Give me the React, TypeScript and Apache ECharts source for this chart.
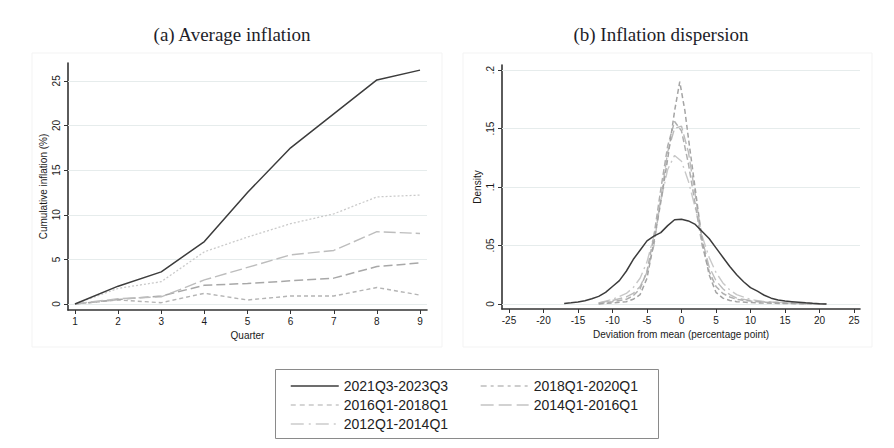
import React, { useEffect, useRef } from "react";
import * as echarts from "echarts";

// ---------- Data ----------
const seriesNames = ["2021Q3-2023Q3", "2018Q1-2020Q1", "2016Q1-2018Q1", "2014Q1-2016Q1", "2012Q1-2014Q1"];

const quarters = [1, 2, 3, 4, 5, 6, 7, 8, 9];
const cum2021 = [0, 2.0, 3.6, 7.0, 12.5, 17.5, 21.3, 25.1, 26.2];
const cum2012 = [0, 1.75, 2.5, 5.85, 7.5, 9.0, 10.1, 12.0, 12.2];
const cum2014 = [0, 0.6, 0.8, 2.7, 4.1, 5.5, 6.0, 8.1, 7.9];
const cum2018 = [0, 0.5, 0.9, 2.1, 2.3, 2.6, 2.9, 4.2, 4.6];
const cum2016 = [0, 0.45, 0.15, 1.2, 0.45, 0.9, 0.9, 1.85, 1.0];

const leftYTicks = [0, 5, 10, 15, 20, 25];
const rightXTicks = [-25, -20, -15, -10, -5, 0, 5, 10, 15, 20, 25];
const rightYTicks = [0, 0.05, 0.1, 0.15, 0.2];

const devSolid = [-17, -16, -15, -14, -13, -12, -11, -10, -9, -8, -7, -6, -5, -4, -3, -2, -1, 0, 1, 2, 3, 4, 5, 6, 7, 8, 9, 10, 11, 12, 13, 14, 15, 16, 17, 18, 19, 20, 21];
const dens2021 = [0.0005, 0.001, 0.0017, 0.0028, 0.0045, 0.0065, 0.01, 0.015, 0.02, 0.028, 0.038, 0.046, 0.054, 0.058, 0.061, 0.067, 0.072, 0.0725, 0.071, 0.068, 0.062, 0.056, 0.048, 0.04, 0.032, 0.025, 0.019, 0.014, 0.011, 0.0075, 0.005, 0.0035, 0.0025, 0.002, 0.0015, 0.001, 0.0006, 0.0003, 0.0001];

const devPeak = [-12, -10, -8, -7, -6, -5, -4, -3, -2, -1, -0.25, 0.5, 1, 2, 3, 4, 5, 6, 7, 8, 10, 12, 15, 18, 21];
const dens2016 = [0.0, 0.001, 0.002, 0.004, 0.008, 0.022, 0.053, 0.087, 0.124, 0.165, 0.19, 0.165, 0.142, 0.098, 0.054, 0.025, 0.01, 0.005, 0.003, 0.002, 0.0012, 0.0008, 0.0004, 0.0002, 0.0];

const devOther = [-12, -10, -8, -7, -6, -5, -4, -3, -2, -1, 0, 1, 2, 3, 4, 5, 6, 7, 8, 10, 12, 15, 18, 21];
const dens2018 = [0.0005, 0.002, 0.004, 0.007, 0.013, 0.028, 0.058, 0.098, 0.135, 0.156, 0.148, 0.12, 0.085, 0.05, 0.028, 0.015, 0.009, 0.006, 0.004, 0.0025, 0.0015, 0.0008, 0.0003, 0.0];
const dens2014 = [0.001, 0.003, 0.006, 0.009, 0.015, 0.027, 0.05, 0.09, 0.13, 0.15, 0.152, 0.13, 0.093, 0.055, 0.032, 0.02, 0.013, 0.008, 0.005, 0.003, 0.002, 0.001, 0.0004, 0.0];
const dens2012 = [0.001, 0.004, 0.009, 0.014, 0.022, 0.036, 0.058, 0.088, 0.115, 0.127, 0.122, 0.105, 0.082, 0.058, 0.04, 0.027, 0.018, 0.012, 0.008, 0.004, 0.002, 0.001, 0.0005, 0.0];

// ---------- Styles ----------
const styles: Record<string, any> = {
  "2021Q3-2023Q3": { color: "#3c3c3c", width: 1.5, type: "solid" },
  "2018Q1-2020Q1": { color: "#a8a8a8", width: 1.5, type: [9, 4] },
  "2016Q1-2018Q1": { color: "#b4b4b4", width: 1.4, type: [4, 3] },
  "2014Q1-2016Q1": { color: "#bdbdbd", width: 1.4, type: [12, 4] },
  "2012Q1-2014Q1": { color: "#cacaca", width: 1.3, type: [2, 2] },
};
const legendStyles: Record<string, any> = {
  "2021Q3-2023Q3": { color: "#3c3c3c", width: 1.5, type: "solid" },
  "2018Q1-2020Q1": { color: "#bdbdbd", width: 1.3, type: [6, 4, 3, 4] },
  "2016Q1-2018Q1": { color: "#c8c8c8", width: 1.3, type: [5, 4] },
  "2014Q1-2016Q1": { color: "#c4c4c4", width: 1.3, type: [13, 5] },
  "2012Q1-2014Q1": { color: "#cccccc", width: 1.3, type: [13, 5, 2, 5] },
};
const rightStyles: Record<string, any> = {
  "2021Q3-2023Q3": { color: "#3c3c3c", width: 1.5, type: "solid" },
  "2016Q1-2018Q1": { color: "#a4a4a4", width: 1.5, type: [5, 3] },
  "2018Q1-2020Q1": { color: "#b0b0b0", width: 1.5, type: [6, 3] },
  "2014Q1-2016Q1": { color: "#bcbcbc", width: 1.4, type: [10, 4] },
  "2012Q1-2014Q1": { color: "#c8c8c8", width: 1.4, type: [12, 4, 2, 4] },
};

const zip = (xs: number[], ys: number[]) => xs.map((x, i) => [x, ys[i]]);

const FONT = "Liberation Sans";
const gridLineColor = "#e6ecec";

export default function App() {
  const ref = useRef<HTMLDivElement>(null);

  useEffect(() => {
    if (!ref.current) return;
    const chart = echarts.init(ref.current, undefined, { renderer: "svg" });

    const axisCommon = {
      axisLine: { onZero: false, lineStyle: { color: "#333", width: 1.6 } },
      axisTick: { length: 4, lineStyle: { color: "#333", width: 1 } },
      splitLine: { show: false },
      nameTextStyle: { fontFamily: FONT, fontSize: 10, color: "#1a1a1a" },
    };

    const leftData: [string, number[]][] = [
      ["2021Q3-2023Q3", cum2021],
      ["2012Q1-2014Q1", cum2012],
      ["2014Q1-2016Q1", cum2014],
      ["2018Q1-2020Q1", cum2018],
      ["2016Q1-2018Q1", cum2016],
    ];
    const rightData: [string, number[], number[]][] = [
      ["2021Q3-2023Q3", devSolid, dens2021],
      ["2016Q1-2018Q1", devPeak, dens2016],
      ["2018Q1-2020Q1", devOther, dens2018],
      ["2014Q1-2016Q1", devOther, dens2014],
      ["2012Q1-2014Q1", devOther, dens2012],
    ];

    const series: any[] = [];
    leftData.forEach(([name, vals], i) => {
      series.push({
        type: "line",
        name,
        xAxisIndex: 0,
        yAxisIndex: 0,
        data: zip(quarters, vals),
        symbol: "none",
        lineStyle: styles[name],
        itemStyle: { color: styles[name].color },
        z: 5 - i + 2,
        markLine:
          i === 0
            ? {
                silent: true,
                symbol: "none",
                label: { show: false },
                lineStyle: { color: gridLineColor, width: 1, type: "solid" },
                data: leftYTicks.map((v) => ({ yAxis: v })),
                z: 1,
              }
            : undefined,
      });
    });
    rightData.forEach(([name, xs, ys], i) => {
      series.push({
        type: "line",
        name,
        xAxisIndex: 1,
        yAxisIndex: 1,
        data: zip(xs, ys),
        symbol: "none",
        lineStyle: rightStyles[name],
        itemStyle: { color: rightStyles[name].color },
        z: 5 - i + 2,
        markLine:
          i === 0
            ? {
                silent: true,
                symbol: "none",
                label: { show: false },
                lineStyle: { color: gridLineColor, width: 1, type: "solid" },
                data: rightYTicks.map((v) => ({ yAxis: v })),
                z: 1,
              }
            : undefined,
      });
    });

    const legendItem = (name: string) => ({
      name,
      lineStyle: legendStyles[name],
      itemStyle: { color: legendStyles[name].color, opacity: 0 },
    });
    const legendCommon = {
      orient: "vertical",
      top: 374,
      itemWidth: 48,
      itemHeight: 14,
      itemGap: 5,
      selectedMode: false,
      textStyle: { fontFamily: FONT, fontSize: 14, color: "#222" },
    };

    const option: any = {
      animation: false,
      backgroundColor: "#fff",
      grid: [
        { left: 68, top: 63, width: 359, height: 247 },
        { left: 502, top: 65, width: 358, height: 244 },
      ],
      xAxis: [
        {
          ...axisCommon,
          type: "value",
          gridIndex: 0,
          min: 0.838,
          max: 9.162,
          axisTick: { ...axisCommon.axisTick, customValues: quarters },
          axisLabel: { customValues: quarters, fontFamily: FONT, fontSize: 10, color: "#1a1a1a", margin: 6 },
          name: "Quarter",
          nameLocation: "middle",
          nameGap: 18,
        },
        {
          ...axisCommon,
          type: "value",
          gridIndex: 1,
          min: -26.01,
          max: 25.87,
          axisTick: { ...axisCommon.axisTick, customValues: rightXTicks },
          axisLabel: { customValues: rightXTicks, fontFamily: FONT, fontSize: 10, color: "#1a1a1a", margin: 6 },
          name: "Deviation from mean (percentage point)",
          nameLocation: "middle",
          nameGap: 19,
        },
      ],
      yAxis: [
        {
          ...axisCommon,
          type: "value",
          gridIndex: 0,
          min: -0.67,
          max: 27.0,
          axisTick: { ...axisCommon.axisTick, customValues: leftYTicks },
          axisLabel: { customValues: leftYTicks, rotate: 90, fontFamily: FONT, fontSize: 10, color: "#1a1a1a", margin: 7 },
          name: "Cumulative inflation (%)",
          nameLocation: "middle",
          nameRotate: 90,
          nameGap: 20,
        },
        {
          ...axisCommon,
          type: "value",
          gridIndex: 1,
          min: -0.00427,
          max: 0.2043,
          axisTick: { ...axisCommon.axisTick, customValues: rightYTicks },
          axisLabel: {
            customValues: rightYTicks,
            rotate: 90,
            fontFamily: FONT,
            fontSize: 10,
            color: "#1a1a1a",
            margin: 7,
            formatter: (v: number) => (v === 0 ? "0" : String(+v.toFixed(3)).replace(/^0/, "")),
          },
          name: "Density",
          nameLocation: "middle",
          nameRotate: 90,
          nameGap: 20,
        },
      ],
      legend: [
        { ...legendCommon, left: 285, data: [seriesNames[0], seriesNames[2], seriesNames[4]].map(legendItem) },
        { ...legendCommon, left: 475, data: [seriesNames[1], seriesNames[3]].map(legendItem) },
      ],
      graphic: [
        {
          type: "rect",
          silent: true,
          shape: { x: 32, y: 53, width: 410, height: 294 },
          style: { fill: "none", stroke: "#f3f3f3", lineWidth: 1 },
          z: -1,
        },
        {
          type: "rect",
          silent: true,
          shape: { x: 463, y: 53, width: 409, height: 294 },
          style: { fill: "none", stroke: "#f3f3f3", lineWidth: 1 },
          z: -1,
        },
        {
          type: "rect",
          silent: true,
          shape: { x: 275.5, y: 369.5, width: 383, height: 69 },
          style: { fill: "none", stroke: "#8a8a8a", lineWidth: 1 },
        },
        {
          type: "text",
          silent: true,
          style: {
            text: "(a) Average inflation",
            x: 232,
            y: 34,
            textAlign: "center",
            textVerticalAlign: "middle",
            font: '19px "Liberation Serif"',
            fill: "#1e1e2a",
          },
        },
        {
          type: "text",
          silent: true,
          style: {
            text: "(b) Inflation dispersion",
            x: 661,
            y: 34,
            textAlign: "center",
            textVerticalAlign: "middle",
            font: '19px "Liberation Serif"',
            fill: "#1e1e2a",
          },
        },
      ],
      series,
    };

    chart.setOption(option);
    return () => chart.dispose();
  }, []);

  return <div ref={ref} style={{ position: "absolute", left: 0, top: 0, width: 894, height: 448 }} />;
}
